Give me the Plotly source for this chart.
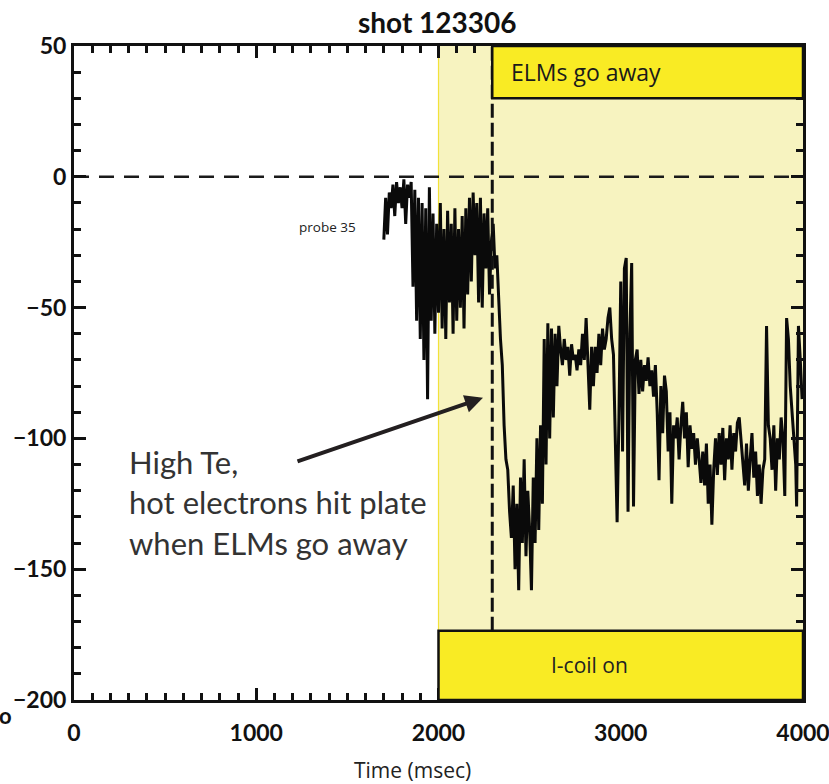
import plotly.graph_objects as go

# Probe 35 signal, shot 123306
time_ms = [
    1700, 1710, 1720, 1730, 1740, 1750, 1760, 1770, 1780, 1790,
    1800, 1810, 1820, 1830, 1840, 1850, 1860, 1870, 1880, 1890,
    1900, 1910, 1920, 1930, 1940, 1950, 1960, 1970, 1980, 1990,
    2000, 2010, 2020, 2030, 2040, 2050, 2060, 2070, 2080, 2090,
    2100, 2110, 2120, 2130, 2140, 2150, 2160, 2170, 2180, 2190,
    2200, 2210, 2220, 2230, 2240, 2250, 2260, 2270, 2280, 2290,
    2300, 2310, 2320, 2330, 2340, 2350, 2360, 2370, 2380, 2390,
    2400, 2410, 2420, 2430, 2440, 2450, 2460, 2470, 2480, 2490,
    2500, 2510, 2520, 2530, 2540, 2550, 2560, 2570, 2580, 2590,
    2600, 2610, 2620, 2630, 2640, 2650, 2660, 2670, 2680, 2690,
    2700, 2710, 2720, 2730, 2740, 2750, 2760, 2770, 2780, 2790,
    2800, 2810, 2820, 2830, 2840, 2850, 2860, 2870, 2880, 2890,
    2900, 2910, 2920, 2930, 2940, 2950, 2960, 2970, 2980, 2990,
    3000, 3010, 3020, 3030, 3040, 3050, 3060, 3070, 3080, 3090,
    3100, 3110, 3120, 3130, 3140, 3150, 3160, 3170, 3180, 3190,
    3200, 3210, 3220, 3230, 3240, 3250, 3260, 3270, 3280, 3290,
    3300, 3310, 3320, 3330, 3340, 3350, 3360, 3370, 3380, 3390,
    3400, 3410, 3420, 3430, 3440, 3450, 3460, 3470, 3480, 3490,
    3500, 3510, 3520, 3530, 3540, 3550, 3560, 3570, 3580, 3590,
    3600, 3610, 3620, 3630, 3640, 3650, 3660, 3670, 3680, 3690,
    3700, 3710, 3720, 3730, 3740, 3750, 3760, 3770, 3780, 3790,
    3800, 3810, 3820, 3830, 3840, 3850, 3860, 3870, 3880, 3890,
    3900, 3910, 3920, 3930, 3940, 3950, 3960, 3965, 3975, 3985,
    3995,
]
probe_35 = [
    -24, -8, -22, -6, -12, -3, -15, -2, -10, -4,
    -12, -1, -18, -3, -8, -2, -42, -5, -55, -8,
    -62, -10, -70, -12, -85, -4, -55, -14, -60, -18,
    -52, -10, -58, -20, -62, -13, -48, -18, -60, -12,
    -55, -20, -50, -15, -58, -12, -45, -8, -40, -6,
    -30, -10, -48, -8, -50, -14, -35, -12, -45, -25,
    -18, -35, -30, -50, -62, -72, -95, -108, -112, -128,
    -138, -118, -150, -125, -158, -115, -140, -108, -145, -120,
    -135, -158, -115, -140, -100, -135, -95, -125, -62, -110,
    -56, -100, -58, -92, -60, -80, -57, -66, -72, -62,
    -70, -65, -76, -64, -70, -68, -74, -66, -72, -60,
    -70, -54, -75, -89, -65, -80, -65, -75, -60, -72,
    -58, -66, -62, -54, -50, -62, -68, -100, -132, -92,
    -40, -105, -35, -31, -128, -60, -33, -126, -70, -66,
    -83, -70, -82, -72, -78, -69, -80, -74, -84, -72,
    -90, -116, -80, -98, -76, -82, -105, -90, -125, -95,
    -100, -92, -108, -95, -86, -100, -90, -111, -95, -104,
    -98, -110, -100, -108, -117, -105, -118, -102, -125, -110,
    -133, -112, -100, -114, -98, -110, -96, -116, -100, -108,
    -95, -112, -98, -105, -94, -92, -100, -110, -118, -102,
    -120, -108, -98, -115, -105, -122, -110, -125, -112, -108,
    -57, -95, -100, -112, -95, -120, -100, -108, -92, -100,
    -122, -54, -62, -80, -90, -98, -110, -126, -57, -70,
    -85,
]

# Time windows
icoil_start = 2000
elm_free_start = 2295
t_end = 4000
y_min, y_max = -200, 50
elm_box_bottom = 30
icoil_box_top = -173.5

x_ticks = [0, 1000, 2000, 3000, 4000]
y_ticks = [50, 0, -50, -100, -150, -200]

LIGHT_YELLOW = "#F7F3C0"
BRIGHT_YELLOW = "#F9EB24"
INK = "#111111"


def tick_label(v):
    return str(v).replace("-", "\u2212")


fig = go.Figure()

fig.add_trace(go.Scatter(
    x=time_ms, y=probe_35, mode="lines",
    line=dict(color="#0a0a0a", width=3),
    showlegend=False, hoverinfo="skip",
))

shapes = [
    # I-coil window background
    dict(type="rect", xref="x", yref="y", x0=icoil_start, x1=t_end, y0=y_min, y1=y_max,
         fillcolor=LIGHT_YELLOW, line=dict(width=0), layer="below"),
    dict(type="line", xref="x", yref="y", x0=icoil_start, x1=icoil_start, y0=y_min, y1=y_max,
         line=dict(color="#F2E23A", width=1.2), layer="below"),
    # zero reference
    dict(type="line", xref="x", yref="y", x0=0, x1=t_end, y0=0, y1=0,
         line=dict(color="#1a1a1a", width=2.5, dash="15px,10px"), layer="below"),
    # ELM suppression onset
    dict(type="line", xref="x", yref="y", x0=elm_free_start, x1=elm_free_start,
         y0=icoil_box_top, y1=y_max,
         line=dict(color="#111111", width=3, dash="14px,5px"), layer="above"),
    # label boxes
    dict(type="rect", xref="x", yref="y", x0=elm_free_start, x1=t_end, y0=elm_box_bottom, y1=y_max,
         fillcolor=BRIGHT_YELLOW, line=dict(color=INK, width=2.5), layer="above"),
    dict(type="rect", xref="x", yref="y", x0=icoil_start, x1=t_end, y0=y_min, y1=icoil_box_top,
         fillcolor=BRIGHT_YELLOW, line=dict(color=INK, width=2.5), layer="above"),
]

annotations = [
    dict(text="shot 123306", xref="paper", yref="paper", x=0.498, y=1.037,
         showarrow=False, font=dict(family="Lato", size=28, color="#111", weight="bold"),
         xanchor="center", yanchor="middle"),
    dict(text="ELMs go away", xref="x", yref="y", x=2385, y=40,
         showarrow=False, font=dict(family="Open Sans", size=23, color="#1a1a1a"),
         xanchor="left", yanchor="middle"),
    dict(text="I-coil on", xref="x", yref="y", x=2826, y=-186.5,
         showarrow=False, font=dict(family="Open Sans", size=21, color="#222"),
         xanchor="center", yanchor="middle"),
    dict(text="probe 35", xref="x", yref="y", x=1222, y=-19,
         showarrow=False, font=dict(family="Open Sans", size=13.5, color="#222"),
         xanchor="left", yanchor="middle"),
    dict(text="High Te,<br>hot electrons hit plate<br>when ELMs go away",
         xref="x", yref="y", x=291, y=-124.5, showarrow=False, align="left",
         font=dict(family="Lato", size=31, color="#333333"),
         xanchor="left", yanchor="middle"),
    dict(text="", xref="x", yref="y", x=2244, y=-84.5, ax=1218, ay=-109,
         axref="x", ayref="y", showarrow=True, arrowhead=2, arrowsize=0.9,
         arrowwidth=4, arrowcolor="#231f20"),
    dict(text="Time (msec)", xref="paper", yref="paper", x=0.465, y=-0.107,
         showarrow=False, font=dict(family="Open Sans", size=21, color="#222"),
         xanchor="center", yanchor="middle"),
    dict(text="o", xref="paper", yref="paper", x=-0.094, y=-0.024,
         showarrow=False, font=dict(family="Lato", size=22, color="#111", weight="bold"),
         xanchor="center", yanchor="middle"),
]

tick_font = dict(family="Lato", size=23, color="#111", weight="bold")

fig.update_layout(
    width=829, height=784,
    margin=dict(l=74, r=26, t=46, b=84, autoexpand=False),
    paper_bgcolor="white", plot_bgcolor="white",
    shapes=shapes, annotations=annotations,
    xaxis=dict(
        range=[0, t_end], tickvals=x_ticks, ticktext=[tick_label(v) for v in x_ticks],
        ticks="inside", ticklen=12, tickwidth=2.5, tickcolor=INK,
        minor=dict(dtick=100, ticks="inside", ticklen=7, tickwidth=2.5, tickcolor=INK),
        showline=True, linewidth=3, linecolor=INK, mirror="ticks",
        showgrid=False, zeroline=False, tickfont=tick_font,
        ticklabelstandoff=10, automargin=False, ticklabeloverflow="allow",
    ),
    yaxis=dict(
        range=[y_min, y_max], tickvals=y_ticks, ticktext=[tick_label(v) for v in y_ticks],
        ticks="inside", ticklen=12, tickwidth=2.5, tickcolor=INK,
        minor=dict(dtick=10, ticks="inside", ticklen=7, tickwidth=2.5, tickcolor=INK),
        showline=True, linewidth=3, linecolor=INK, mirror="ticks",
        showgrid=False, zeroline=False, tickfont=tick_font, automargin=False,
        ticklabeloverflow="allow",
    ),
)

fig.write_html("out.html")
